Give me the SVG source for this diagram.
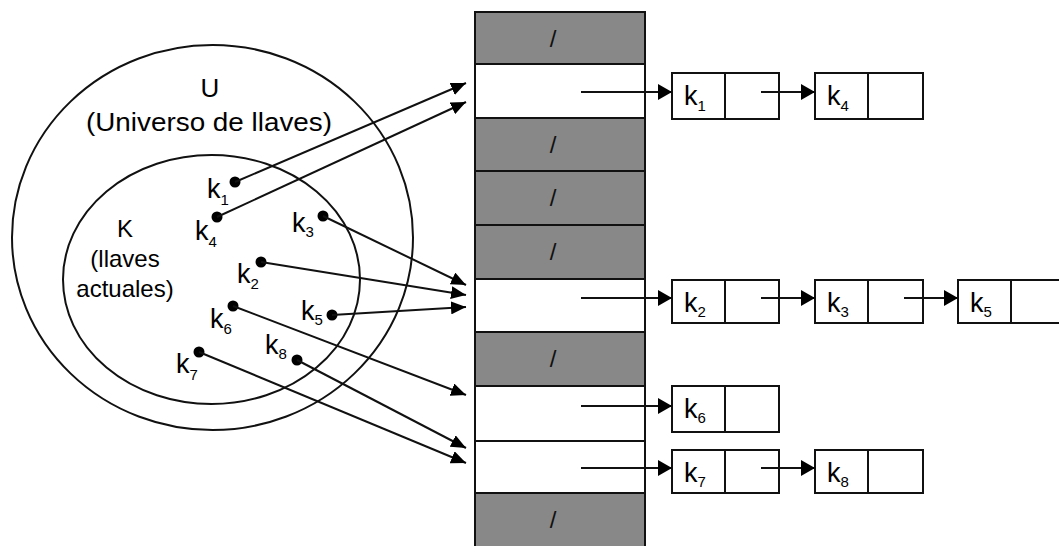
<svg xmlns="http://www.w3.org/2000/svg" width="1059" height="546" viewBox="0 0 1059 546">
<defs>
<style>
.t{font-family:"Liberation Sans",Arial,sans-serif;fill:#000}
.lab{font-size:27px}
.sub{font-size:15px}
.ring{fill:none;stroke:#111;stroke-width:2}
.gray{fill:#888888;stroke:#111;stroke-width:2}
.white{fill:#fff;stroke:#111;stroke-width:2}
.node{fill:#fff;stroke:#111;stroke-width:2}
.ln{stroke:#111;stroke-width:2;fill:none}
.dot{fill:#000}
.slash{font-size:24px;text-anchor:middle;fill:#111}
</style>
<marker id="ah" markerUnits="userSpaceOnUse" markerWidth="16" markerHeight="13" refX="15" refY="6.5" orient="auto">
<path d="M0,0 L15,6.5 L0,13 Z" fill="#000"/>
</marker>
<marker id="ah2" markerUnits="userSpaceOnUse" markerWidth="15" markerHeight="16" refX="14" refY="8" orient="auto">
<path d="M0,0 L14,8 L0,16 Z" fill="#000"/>
</marker>
</defs>
<rect width="1059" height="546" fill="#fff"/>

<g id="universe">
<ellipse class="ring" cx="212.5" cy="237.5" rx="200.5" ry="192.5"/>
<text class="t" x="210" y="97" font-size="26" text-anchor="middle">U</text>
<text class="t" x="209" y="131" font-size="26" text-anchor="middle" textLength="246" lengthAdjust="spacingAndGlyphs">(Universo de llaves)</text>
</g>

<g id="keys">
<ellipse class="ring" cx="211.5" cy="279.5" rx="148.5" ry="124.5"/>
<text class="t" x="125" y="237" font-size="24" text-anchor="middle">K</text>
<text class="t" x="125" y="267" font-size="24" text-anchor="middle">(llaves</text>
<text class="t" x="125" y="297" font-size="24" text-anchor="middle">actuales)</text>
</g>

<g id="key-points">
<circle class="dot" cx="235" cy="182" r="5.5"/>
<text class="t lab" x="207" y="198">k<tspan class="sub" dy="7">1</tspan></text>
<circle class="dot" cx="217" cy="217" r="5.5"/>
<text class="t lab" x="195" y="240">k<tspan class="sub" dy="7">4</tspan></text>
<circle class="dot" cx="323" cy="216" r="5.5"/>
<text class="t lab" x="292" y="232">k<tspan class="sub" dy="5">3</tspan></text>
<circle class="dot" cx="261" cy="262" r="5.5"/>
<text class="t lab" x="237" y="283">k<tspan class="sub" dy="6">2</tspan></text>
<circle class="dot" cx="332" cy="315" r="5.5"/>
<text class="t lab" x="301" y="320">k<tspan class="sub" dy="5">5</tspan></text>
<circle class="dot" cx="233" cy="306" r="5.5"/>
<text class="t lab" x="210" y="328">k<tspan class="sub" dy="6">6</tspan></text>
<circle class="dot" cx="297" cy="360" r="5.5"/>
<text class="t lab" x="265" y="354">k<tspan class="sub" dy="5">8</tspan></text>
<circle class="dot" cx="199" cy="352" r="5.5"/>
<text class="t lab" x="176" y="373">k<tspan class="sub" dy="7">7</tspan></text>
</g>

<g id="table">
<rect class="gray" x="475" y="12" width="170" height="52"/>
<rect class="white" x="475" y="64" width="170" height="54"/>
<rect class="gray" x="475" y="118" width="170" height="53"/>
<rect class="gray" x="475" y="171" width="170" height="54"/>
<rect class="gray" x="475" y="225" width="170" height="54"/>
<rect class="white" x="475" y="279" width="170" height="53"/>
<rect class="gray" x="475" y="332" width="170" height="54"/>
<rect class="white" x="475" y="386" width="170" height="55"/>
<rect class="white" x="475" y="441" width="170" height="52"/>
<rect class="gray" x="475" y="493" width="170" height="60"/>
<text class="t slash" x="553" y="47">/</text>
<text class="t slash" x="553" y="153">/</text>
<text class="t slash" x="553" y="206">/</text>
<text class="t slash" x="553" y="260">/</text>
<text class="t slash" x="553" y="367">/</text>
<text class="t slash" x="553" y="528">/</text>
</g>

<g id="list-1">
<rect class="node" x="672" y="73" width="107" height="46"/>
<line class="ln" x1="725" y1="73" x2="725" y2="119"/>
<text class="t lab" x="684" y="105">k<tspan class="sub" dy="6">1</tspan></text>
<rect class="node" x="815" y="73" width="108" height="46"/>
<line class="ln" x1="868" y1="73" x2="868" y2="119"/>
<text class="t lab" x="827" y="105">k<tspan class="sub" dy="6">4</tspan></text>
</g>

<g id="list-2">
<rect class="node" x="672" y="280" width="107" height="43"/>
<line class="ln" x1="725" y1="280" x2="725" y2="323"/>
<text class="t lab" x="684" y="312">k<tspan class="sub" dy="5">2</tspan></text>
<rect class="node" x="815" y="280" width="108" height="43"/>
<line class="ln" x1="868" y1="280" x2="868" y2="323"/>
<text class="t lab" x="827" y="312">k<tspan class="sub" dy="5">3</tspan></text>
<rect class="node" x="958" y="280" width="108" height="43"/>
<line class="ln" x1="1011" y1="280" x2="1011" y2="323"/>
<text class="t lab" x="970" y="312">k<tspan class="sub" dy="5">5</tspan></text>
</g>

<g id="list-3">
<rect class="node" x="672" y="386" width="107" height="46"/>
<line class="ln" x1="725" y1="386" x2="725" y2="432"/>
<text class="t lab" x="684" y="418">k<tspan class="sub" dy="5">6</tspan></text>
</g>

<g id="list-4">
<rect class="node" x="672" y="450" width="107" height="43"/>
<line class="ln" x1="725" y1="450" x2="725" y2="493"/>
<text class="t lab" x="684" y="482">k<tspan class="sub" dy="5">7</tspan></text>
<rect class="node" x="815" y="450" width="108" height="43"/>
<line class="ln" x1="868" y1="450" x2="868" y2="493"/>
<text class="t lab" x="827" y="482">k<tspan class="sub" dy="5">8</tspan></text>
</g>

<g id="connectors">
<line class="ln" x1="235" y1="182" x2="466" y2="83" marker-end="url(#ah)"/>
<line class="ln" x1="217" y1="217" x2="466" y2="102" marker-end="url(#ah)"/>
<line class="ln" x1="323" y1="216" x2="466" y2="285" marker-end="url(#ah)"/>
<line class="ln" x1="261" y1="262" x2="466" y2="295" marker-end="url(#ah)"/>
<line class="ln" x1="332" y1="315" x2="466" y2="307" marker-end="url(#ah)"/>
<line class="ln" x1="233" y1="306" x2="466" y2="395" marker-end="url(#ah)"/>
<line class="ln" x1="297" y1="360" x2="466" y2="448" marker-end="url(#ah)"/>
<line class="ln" x1="199" y1="352" x2="466" y2="463" marker-end="url(#ah)"/>

<line class="ln" x1="581" y1="92" x2="672" y2="92" marker-end="url(#ah2)"/>
<line class="ln" x1="761" y1="92" x2="815" y2="92" marker-end="url(#ah2)"/>
<line class="ln" x1="581" y1="298" x2="672" y2="298" marker-end="url(#ah2)"/>
<line class="ln" x1="761" y1="298" x2="815" y2="298" marker-end="url(#ah2)"/>
<line class="ln" x1="904" y1="298" x2="958" y2="298" marker-end="url(#ah2)"/>
<line class="ln" x1="581" y1="406" x2="672" y2="406" marker-end="url(#ah2)"/>
<line class="ln" x1="581" y1="468" x2="672" y2="468" marker-end="url(#ah2)"/>
<line class="ln" x1="761" y1="468" x2="815" y2="468" marker-end="url(#ah2)"/>
</g>
</svg>
